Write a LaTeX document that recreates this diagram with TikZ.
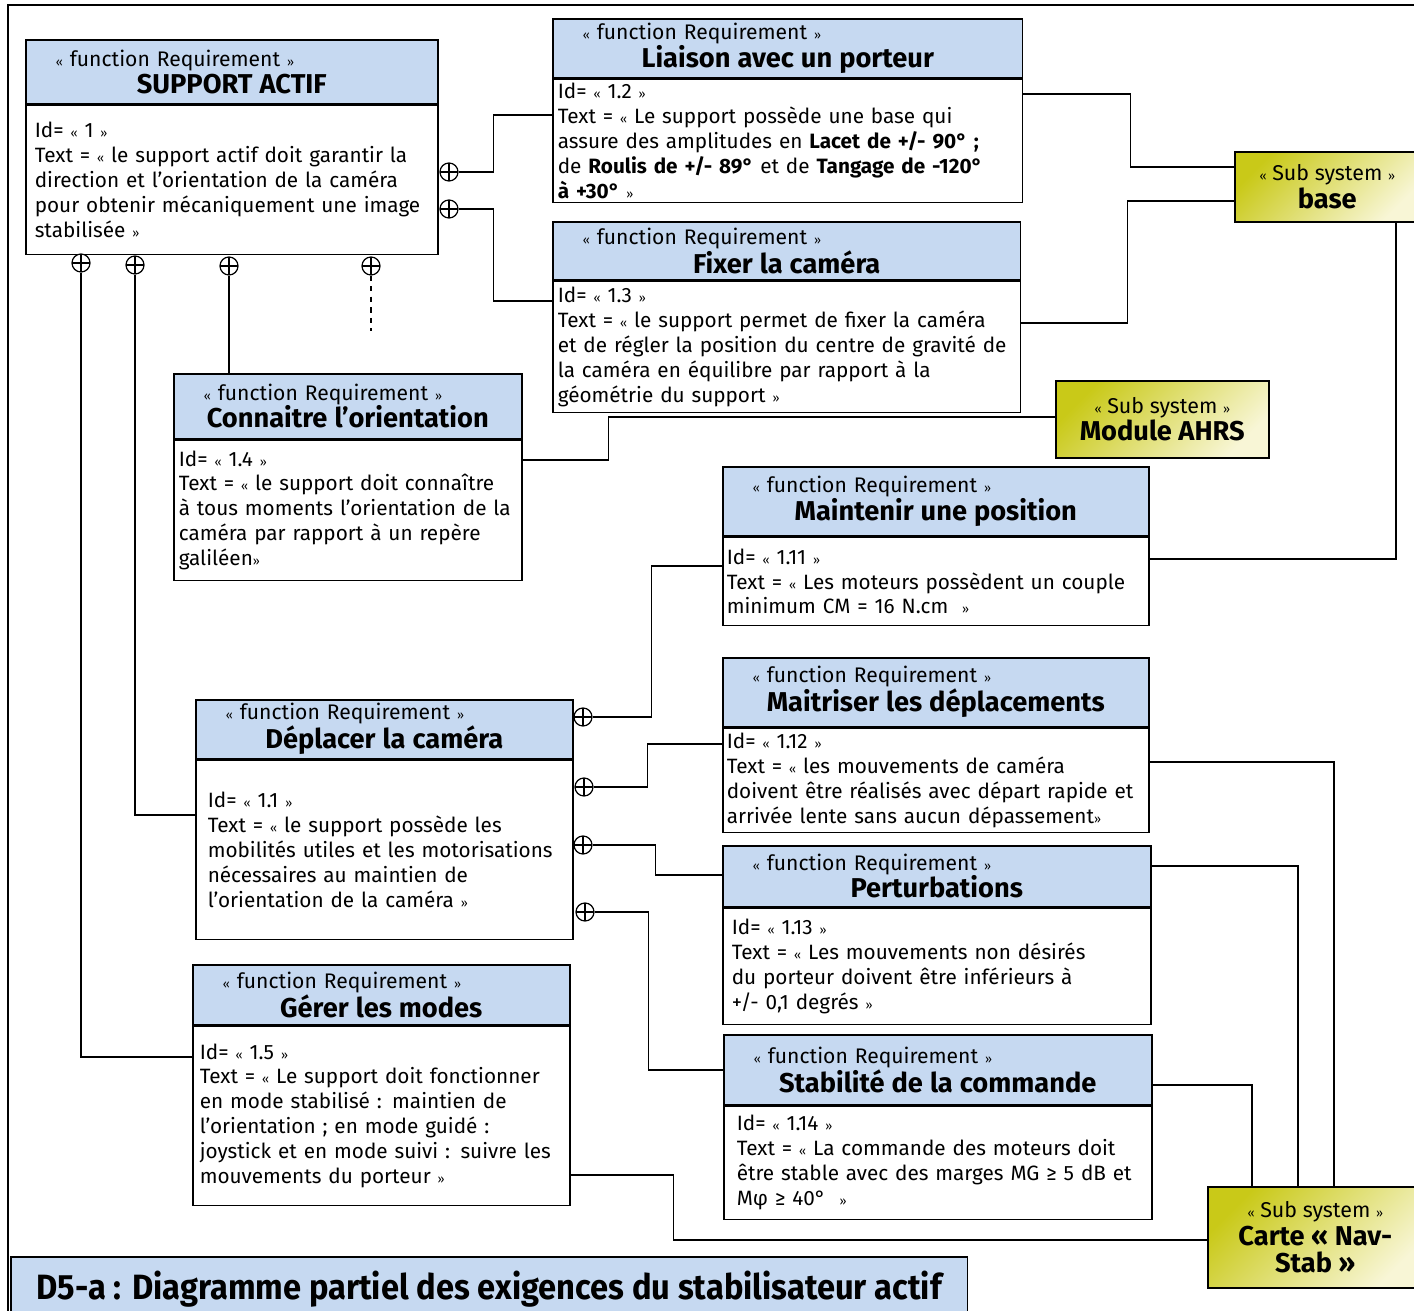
\documentclass[tikz,border=0pt]{standalone}
\usepackage{fontspec}
\setmainfont{Fira Sans}
\newfontfamily\titlefont[FakeStretch=0.93]{Fira Sans}
\usetikzlibrary{positioning}

\definecolor{reqblue}{HTML}{C6D9F1}
\definecolor{subdark}{HTML}{C9C918}
\definecolor{sublight}{HTML}{F8F6D6}

\newcommand{\lgui}{{\scriptsize «}}
\newcommand{\rgui}{{\scriptsize »}}
\newcommand{\freq}{\makebox[\linewidth][l]{\hspace*{0.5cm}\lgui{} function Requirement \rgui}}
\newcommand{\rname}[1]{{\fontsize{15.5}{17}\selectfont\bfseries #1}}

\tikzset{
    reqhead/.style={draw, line width=0.9pt, fill=reqblue, anchor=north west, align=center, inner xsep=0.1cm, inner ysep=2pt, font=\fontsize{12}{15.4}\selectfont},
    reqbody/.style={draw, line width=0.9pt, fill=white, align=left, inner ysep=2pt, font=\fontsize{11.8}{14.2}\selectfont},
    subsys/.style={draw, line width=0.9pt, top color=subdark, bottom color=sublight, shading angle=45, anchor=north west, align=center, font=\fontsize{12.2}{15.6}\selectfont},
    contain/.style={draw, circle, line width=0.7pt, minimum size=0.36cm, inner sep=0pt, fill=white,
        path picture={\draw[line width=0.7pt] (path picture bounding box.north) -- (path picture bounding box.south)
            (path picture bounding box.west) -- (path picture bounding box.east);}},
    link/.style={line width=0.7pt}
}

\begin{document}
\begin{tikzpicture}[x=0.02cm, y=-0.02cm]

    \useasboundingbox (0,0) rectangle (1414,1311);
    % frame
    \draw[line width=1.2pt] (8,1330) -- (8,5) -- (1430,5);

    % requirements
    \node(T1)[reqhead, text width=8.04cm, minimum height=1.28cm] at (25,39) {\freq\\\rname{SUPPORT ACTIF}};
    \node(B1)[reqbody, minimum width=8.24cm, minimum height=2.98cm, text width=7.88cm, inner xsep=0.18cm, below=0pt of T1]
        {Id= \lgui{} 1 \rgui\\Text = \lgui{} le support actif doit garantir la\\direction et l’orientation de la caméra\\pour obtenir mécaniquement une image\\stabilisée \rgui};

    \node(T12)[reqhead, text width=9.2cm, minimum height=1.18cm] at (552,18) {\freq\\\rname{Liaison avec un porteur}};
    \node(B12)[reqbody, minimum width=9.4cm, minimum height=2.46cm, text width=9.2cm, inner xsep=0.1cm, below=0pt of T12]
        {Id= \lgui{} 1.2 \rgui\\Text = \lgui{} Le support possède une base qui\\assure des amplitudes en \textbf{Lacet de +/- 90° ;}\\de \textbf{Roulis de +/- 89°} et de \textbf{Tangage de -120°}\\\textbf{à +30°} \rgui};

    \node(T13)[reqhead, text width=9.16cm, minimum height=1.16cm] at (552,221) {\freq\\\rname{Fixer la caméra}};
    \node(B13)[reqbody, minimum width=9.36cm, minimum height=2.62cm, text width=9.16cm, inner xsep=0.1cm, below=0pt of T13]
        {Id= \lgui{} 1.3 \rgui\\Text = \lgui{} le support permet de fixer la caméra\\et de régler la position du centre de gravité de\\la caméra en équilibre par rapport à la\\géométrie du support \rgui};

    \node(T14)[reqhead, text width=6.76cm, minimum height=1.3cm] at (173,373) {\freq\\\rname{Connaitre l’orientation}};
    \node(B14)[reqbody, minimum width=6.96cm, minimum height=2.8cm, text width=6.76cm, inner xsep=0.1cm, below=0pt of T14]
        {Id= \lgui{} 1.4 \rgui\\Text = \lgui{} le support doit connaître\\à tous moments l’orientation de la\\caméra par rapport à un repère\\galiléen\rgui};

    \node(T111)[reqhead, text width=8.32cm, minimum height=1.38cm] at (722,466) {\freq\\\rname{Maintenir une position}};
    \node(B111)[reqbody, minimum width=8.52cm, minimum height=1.76cm, text width=8.36cm, inner xsep=0.08cm, below=0pt of T111]
        {Id= \lgui{} 1.11 \rgui\\Text = \lgui{} Les moteurs possèdent un couple\\minimum CM = 16 N.cm\ \ \rgui};

    \node(T112)[reqhead, text width=8.32cm, minimum height=1.38cm] at (722,657) {\freq\\\rname{Maitriser les déplacements}};
    \node(B112)[reqbody, minimum width=8.52cm, minimum height=2.08cm, text width=8.36cm, inner xsep=0.08cm, below=0pt of T112]
        {Id= \lgui{} 1.12 \rgui\\Text = \lgui{} les mouvements de caméra\\doivent être réalisés avec départ rapide et\\arrivée lente sans aucun dépassement\rgui};

    \node(T11)[reqhead, text width=7.34cm, minimum height=1.18cm] at (195,699) {\freq\\\rname{Déplacer la caméra}};
    \node(B11)[reqbody, minimum width=7.54cm, minimum height=3.58cm, text width=7.06cm, inner xsep=0.24cm, below=0pt of T11]
        {Id= \lgui{} 1.1 \rgui\\Text = \lgui{} le support possède les\\mobilités utiles et les motorisations\\nécessaires au maintien de\\l’orientation de la caméra \rgui};

    \node(T113)[reqhead, text width=8.36cm, minimum height=1.22cm] at (722,845) {\freq\\\rname{Perturbations}};
    \node(B113)[reqbody, minimum width=8.56cm, minimum height=2.32cm, text width=8.2cm, inner xsep=0.18cm, below=0pt of T113]
        {Id= \lgui{} 1.13 \rgui\\Text = \lgui{} Les mouvements non désirés\\du porteur doivent être inférieurs à\\+/- 0,1 degrés \rgui};

    \node(T15)[reqhead, text width=7.34cm, minimum height=1.2cm] at (192,964) {\freq\\\rname{Gérer les modes}};
    \node(B15)[reqbody, minimum width=7.54cm, minimum height=3.58cm, text width=7.26cm, inner xsep=0.14cm, below=0pt of T15]
        {Id= \lgui{} 1.5 \rgui\\Text = \lgui{} Le support doit fonctionner\\en mode stabilisé : maintien de\\l’orientation ; en mode guidé :\\joystick et en mode suivi : suivre les\\mouvements du porteur \rgui};

    \node(T114)[reqhead, text width=8.36cm, minimum height=1.4cm] at (723,1034) {\freq\\\rname{Stabilité de la commande}};
    \node(B114)[reqbody, minimum width=8.56cm, minimum height=2.26cm, text width=8.04cm, inner xsep=0.26cm, below=0pt of T114]
        {Id= \lgui{} 1.14 \rgui\\Text = \lgui{} La commande des moteurs doit\\être stable avec des marges MG ≥ 5 dB et\\Mφ ≥ 40°\ \ \rgui};

    % sub systems
    \node(S1)[subsys, minimum width=3.7cm, minimum height=1.4cm] at (1234,151) {\lgui{} Sub system \rgui\\\rname{base}};
    \node(S2)[subsys, minimum width=4.26cm, minimum height=1.54cm] at (1055,380) {\lgui{} Sub system \rgui\\\rname{Module AHRS}};
    \node(S3)[subsys, minimum width=4.3cm, minimum height=2.02cm] at (1207,1186) {\lgui{} Sub system \rgui\\\rname{Carte « Nav-}\\\rname{Stab »}};

    % title
    \node(D5)[draw, line width=0.9pt, fill=reqblue, anchor=north west, minimum width=19.14cm, minimum height=1.3cm,
        font=\titlefont\bfseries\fontsize{20}{24}\selectfont] at (10,1256) {D5-a : Diagramme partiel des exigences du stabilisateur actif};

    % containment
    \node(P1)[contain] at (449,172) {};
    \node(P2)[contain] at (449,209) {};
    \node(P3)[contain] at (81,263) {};
    \node(P4)[contain] at (135,265) {};
    \node(P5)[contain] at (229,266) {};
    \node(P6)[contain] at (371,266) {};
    \node(P7)[contain] at (583,717) {};
    \node(P8)[contain] at (584,787) {};
    \node(P9)[contain] at (583,845) {};
    \node(P10)[contain] at (585,912) {};

    \draw[link] (P1.east) -- ++(35,0) |- (B12.west |- 0,115);
    \draw[link] (P2.east) -- ++(35,0) |- (B13.west |- 0,301);
    \draw[link] (P3.south) |- (B15.west |- 0,1057);
    \draw[link] (P4.south) |- (B11.west |- 0,815);
    \draw[link] (P5.south) -- (P5.south |- T14.north);
    \draw[link, dashed] (P6.south) -- ++(0,55);
    \draw[link] (P7.east) -- ++(59,0) |- (B111.west |- 0,566);
    \draw[link] (P8.east) -- ++(54,0) |- (B112.west |- 0,744);
    \draw[link] (P9.east) -- ++(63,0) |- (T113.west |- 0,875);
    \draw[link] (P10.east) -- ++(54,0) |- (T114.west |- 0,1070);

    % allocations
    \draw[link] (B14.east |- 0,460) -- ++(86,0) |- (S2.west |- 0,417);
    \draw[link] (B12.east |- 0,94) -- ++(107,0) |- (S1.west |- 0,167);
    \draw[link] (B13.east |- 0,323) -- ++(106,0) |- (S1.west |- 0,201);
    \draw[link] (B111.east |- 0,559) -| (S1.south -| 1396,0);
    \draw[link] (B112.east |- 0,762) -| (S3.north -| 1334,0);
    \draw[link] (T113.east |- 0,866) -| (S3.north -| 1298,0);
    \draw[link] (T114.east |- 0,1085) -| (S3.north -| 1252,0);
    \draw[link] (B15.east |- 0,1175) -- ++(103,0) |- (S3.west |- 0,1240);

\end{tikzpicture}
\end{document}
